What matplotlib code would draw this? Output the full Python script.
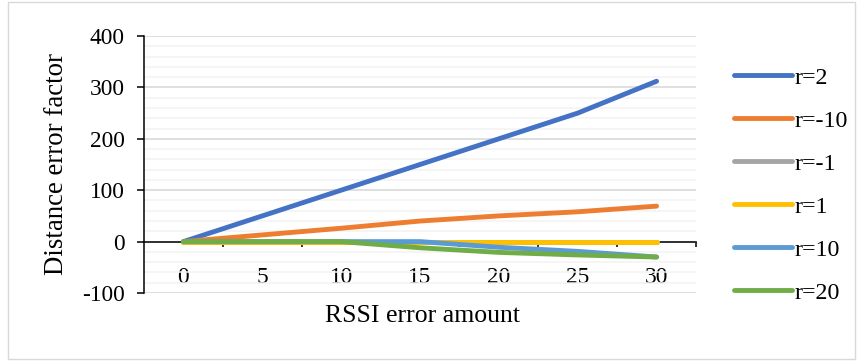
import matplotlib
matplotlib.use('Agg')
import matplotlib.pyplot as plt
from matplotlib.ticker import MultipleLocator, FixedLocator
from matplotlib.patches import Rectangle

# RSSI error amount (category axis)
rssi_error = [0, 5, 10, 15, 20, 25, 30]

# Distance error factor for each r
r_2 = [0, 50, 100, 150, 200, 250, 312]
r_neg10 = [0, 13, 26, 40, 50, 58, 69]
r_neg1 = [0, 0, 0, 0, 0, 0, 0]
r_1 = [0, 0, 0, 0, 0, 0, 0]
r_10 = [0, 0, 0, 0, -11, -19, -30]
r_20 = [0, 0, 0, -12, -21, -26, -30]

series = [r_2, r_neg10, r_neg1, r_1, r_10, r_20]
series_labels = ['r=2', 'r=-10', 'r=-1', 'r=1', 'r=10', 'r=20']
series_colors = ['#4472C4', '#ED7D31', '#A5A5A5', '#FFC000', '#5B9BD5', '#70AD47']

plt.rcParams['font.family'] = ['Liberation Serif', 'DejaVu Serif']
plt.rcParams['axes.unicode_minus'] = False
FS = 16.8
LEG_FS = 17.3

W, H = 862, 361
fig = plt.figure(figsize=(W / 100, H / 100), dpi=100)
ax = fig.add_axes([144 / W, 1 - 293 / H, (696 - 144) / W, (293 - 36) / H])

xpos = list(range(len(rssi_error)))
for vals, lab, col in zip(series, series_labels, series_colors):
    ax.plot(xpos, vals, color=col, lw=3.5, solid_capstyle='round',
            solid_joinstyle='round', label=lab, zorder=3)

ax.set_xlim(-0.5, len(rssi_error) - 0.5)
ax.set_ylim(-100, 400)

# y axis: major every 100, light minor gridlines every 20
ax.yaxis.set_major_locator(MultipleLocator(100))
ax.yaxis.set_minor_locator(MultipleLocator(20))
ax.grid(which='major', axis='y', color='#d9d9d9', lw=1.2)
ax.grid(which='minor', axis='y', color='#f2f2f2', lw=1.1)
ax.set_axisbelow(True)

for s in ['top', 'right']:
    ax.spines[s].set_visible(False)
ax.spines['bottom'].set_position(('data', 0))
ax.spines['bottom'].set_color('black')
ax.spines['left'].set_color('black')
ax.spines['bottom'].set_linewidth(1.1)
ax.spines['left'].set_linewidth(1.1)

# category axis: tick marks between categories, labels at category centres
ax.xaxis.set_major_locator(FixedLocator([p + 0.5 for p in xpos]))
ax.set_xticks(xpos, labels=[str(v) for v in rssi_error], minor=True)
ax.tick_params(axis='x', which='major', direction='out', length=3.5, width=1.1,
               labelbottom=False)
ax.tick_params(axis='x', which='minor', length=0, pad=18, labelsize=FS)
ax.tick_params(axis='y', which='major', direction='out', length=5, width=1.1,
               pad=9, labelsize=FS)
ax.tick_params(axis='y', which='minor', length=0)

fig.text(57 / W, 1 - 164 / H, 'Distance error factor', rotation=90,
         ha='center', va='center', fontsize=19.3)
fig.text(423 / W, 1 - 316 / H, 'RSSI error amount', ha='center', va='center',
         fontsize=18.5)

ax.legend(loc='upper left', bbox_to_anchor=(734 / W, 1 - 67 / H),
          bbox_transform=fig.transFigure, frameon=False, fontsize=LEG_FS,
          handlelength=2.4, handletextpad=0.1, labelspacing=0.88,
          borderpad=0, borderaxespad=0)

fig.add_artist(Rectangle((8 / W, 2 / H), (855 - 8) / W, (359 - 2) / H,
                         transform=fig.transFigure, fill=False,
                         edgecolor='#d9d9d9', lw=1))

fig.savefig('out.png', dpi=100)
